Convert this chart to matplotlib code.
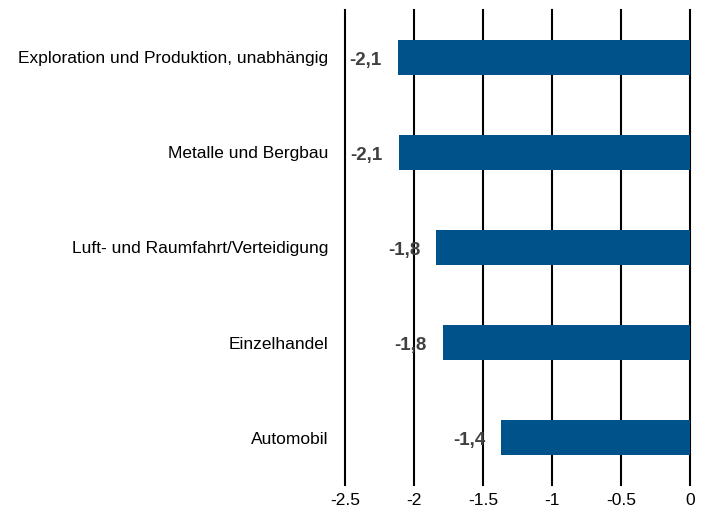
import matplotlib
matplotlib.use("Agg")
import matplotlib.pyplot as plt

categories = [
    "Exploration und Produktion, unabhängig",
    "Metalle und Bergbau",
    "Luft- und Raumfahrt/Verteidigung",
    "Einzelhandel",
    "Automobil",
]
values = [-2.12, -2.11, -1.84, -1.79, -1.37]
value_labels = ["-2,1", "-2,1", "-1,8", "-1,8", "-1,4"]
xticks = [-2.5, -2, -1.5, -1, -0.5, 0]
xtick_labels = ["-2.5", "-2", "-1.5", "-1", "-0.5", "0"]

plt.rcParams['font.family'] = ['Liberation Sans', 'DejaVu Sans']

fig = plt.figure(figsize=(7.1, 5.15), dpi=100)
ax = fig.add_axes([0.486, 0.058, 0.486, 0.923])

ypos = list(range(len(categories)))
ax.barh(ypos, values, height=0.37, color='#00538A', zorder=3)

for y, v, lab in zip(ypos, values, value_labels):
    ax.annotate(lab, xy=(v, y), xytext=(-11.5, -2), textcoords='offset points',
                ha='right', va='center', fontsize=13.5, fontweight='bold',
                family=['Liberation Sans Narrow', 'Liberation Sans'],
                color='#404040', zorder=4)

for x in xticks:
    ax.axvline(x, color='black', lw=1.5, zorder=1, clip_on=False)

ax.set_xlim(-2.5, 0)
ax.set_ylim(4.5, -0.5)
ax.set_yticks(ypos)
ax.set_yticklabels(categories, fontsize=12.5)
ax.set_xticks(xticks)
ax.set_xticklabels(xtick_labels, fontsize=12.5)
ax.tick_params(length=0, pad=6)
ax.tick_params(axis='y', pad=12)
for s in ax.spines.values():
    s.set_visible(False)

fig.savefig("out.png", dpi=100)
